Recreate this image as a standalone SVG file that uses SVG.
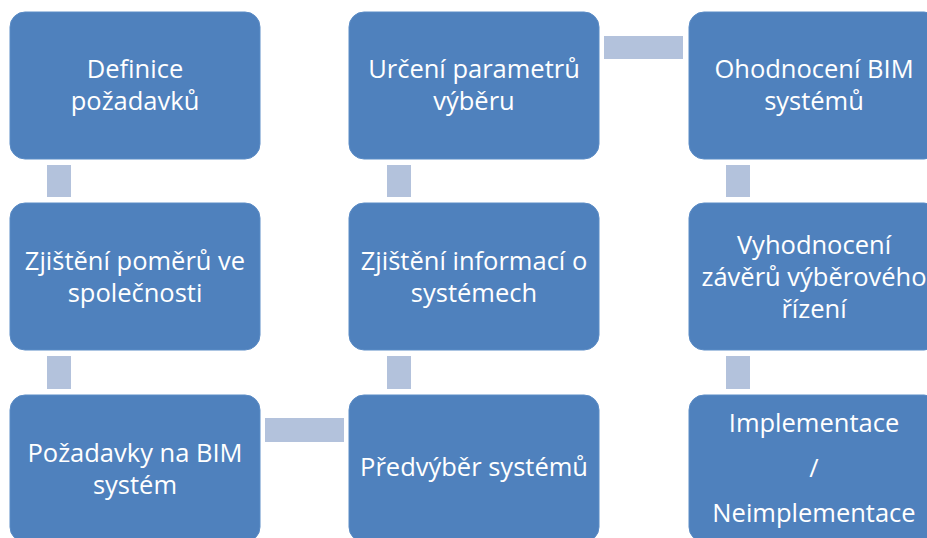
<svg xmlns="http://www.w3.org/2000/svg" width="927" height="538" viewBox="0 0 927 538">
<style>
.box{fill:#4F81BD;stroke:#5B8CC6;stroke-width:1}
.con{fill:#B3C2DC}
text{font-family:"Open Sans","Noto Sans","Liberation Sans",sans-serif;font-size:25.5px;fill:#FFFFFF;text-anchor:middle}
</style>
<rect width="927" height="538" fill="#FFFFFF"/>
<g id="connectors">
<rect class="con" x="47" y="165" width="24" height="32"/>
<rect class="con" x="47" y="356" width="24" height="33"/>
<rect class="con" x="265" y="418" width="79" height="24"/>
<rect class="con" x="387" y="165" width="24" height="32"/>
<rect class="con" x="387" y="356" width="24" height="33"/>
<rect class="con" x="604" y="36" width="79" height="23"/>
<rect class="con" x="726" y="165" width="24" height="32"/>
<rect class="con" x="726" y="356" width="24" height="33"/>
</g>
<g id="n1"><rect class="box" x="10" y="12" width="250" height="147" rx="15"/><text x="135" y="78">Definice</text><text x="135" y="110">požadavků</text></g>
<g id="n2"><rect class="box" x="10" y="203" width="250" height="147" rx="15"/><text x="135" y="270">Zjištění poměrů ve</text><text x="135" y="302">společnosti</text></g>
<g id="n3"><rect class="box" x="10" y="395" width="250" height="147" rx="15"/><text x="135" y="462">Požadavky na BIM</text><text x="135" y="494">systém</text></g>
<g id="n4"><rect class="box" x="349" y="395" width="250" height="147" rx="15"/><text x="474" y="476">Předvýběr systémů</text></g>
<g id="n5"><rect class="box" x="349" y="203" width="250" height="147" rx="15"/><text x="474" y="270">Zjištění informací o</text><text x="474" y="302">systémech</text></g>
<g id="n6"><rect class="box" x="349" y="12" width="250" height="147" rx="15"/><text x="474" y="78">Určení parametrů</text><text x="474" y="110">výběru</text></g>
<g id="n7"><rect class="box" x="689" y="12" width="250" height="147" rx="15"/><text x="814" y="78">Ohodnocení BIM</text><text x="814" y="110">systémů</text></g>
<g id="n8"><rect class="box" x="689" y="203" width="250" height="147" rx="15"/><text x="814" y="254">Vyhodnocení</text><text x="814" y="286">závěrů výběrového</text><text x="814" y="318">řízení</text></g>
<g id="n9"><rect class="box" x="689" y="395" width="250" height="147" rx="15"/><text x="814" y="432">Implementace</text><text x="814" y="477">/</text><text x="814" y="522">Neimplementace</text></g>
</svg>
